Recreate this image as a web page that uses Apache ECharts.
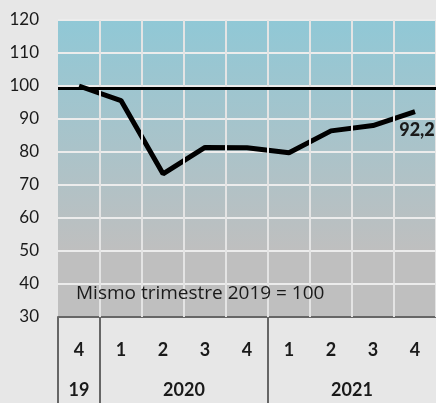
<!DOCTYPE html>
<html>
<head>
<meta charset="utf-8">
<title>Indice trimestral</title>
<script src="https://cdn.jsdelivr.net/npm/echarts@6/dist/echarts.min.js"></script>
<style>
  html, body { margin: 0; padding: 0; background: #e7e7e7; }
  #chart { width: 436px; height: 403px; }
</style>
</head>
<body>
<div id="chart"></div>
<script>
// trimestres (fila 1) y años (fila 2)
var quarters = ['4', '1', '2', '3', '4', '1', '2', '3', '4'];
var years = ['19', '2020', '2021'];
var yearCenters = [0.5, 3, 7];      // centro de cada grupo, en posiciones de categoría
var yearBounds = [0, 1, 5];         // separadores verticales
var values = [100, 95.6, 73.4, 81.4, 81.3, 79.8, 86.4, 88, 92.2];
var baseLine = 99.2;
var note = 'Mismo trimestre 2019 = 100';

var font = 'Lato';
var chart = echarts.init(document.getElementById('chart'));
var last = values.length - 1;
// límites entre trimestres para la rejilla vertical
var quarterBounds = quarters.map(function (q, i) { return i + 1; });

chart.setOption({
    backgroundColor: '#e7e7e7',
    animation: false,
    grid: {
        left: 58, right: 0, top: 20, bottom: 86,
        show: true, borderWidth: 0,
        backgroundColor: {
            type: 'linear', x: 0, y: 0, x2: 0, y2: 1,
            colorStops: [
                { offset: 0, color: '#90c8d6' },
                { offset: 0.78, color: '#bfbfbf' },
                { offset: 1, color: '#bfbfbf' }
            ]
        }
    },
    xAxis: [{
        type: 'category',
        data: quarters,
        boundaryGap: true,
        axisLine: { show: false },
        axisTick: { show: false },
        axisLabel: {
            interval: 0,
            margin: 24, fontFamily: font, fontSize: 18, fontWeight: 'bold', color: '#1a1a1a'
        },
        splitLine: { show: false }
    }, {
        // fila de años y separadores
        type: 'value',
        position: 'bottom',
        min: 0, max: quarters.length,
        axisLine: { show: true, lineStyle: { color: '#666666', width: 2 } },
        axisTick: {
            show: true, customValues: yearBounds, length: 86,
            lineStyle: { color: '#666666', width: 2 }
        },
        axisLabel: {
            customValues: yearCenters,
            formatter: function (v) { return years[yearCenters.indexOf(v)]; },
            margin: 64, fontFamily: font, fontSize: 18, fontWeight: 'bold', color: '#1a1a1a'
        },
        splitLine: { show: false }
    }, {
        // eje auxiliar para la rejilla vertical
        type: 'value',
        position: 'top',
        min: 0, max: quarters.length,
        axisLine: { show: false },
        axisTick: { show: false, customValues: quarterBounds },
        axisLabel: { show: false, customValues: quarterBounds },
        splitLine: { show: true, lineStyle: { color: '#e4e4e4', width: 2 } }
    }],
    yAxis: {
        type: 'value',
        min: 30, max: 120, interval: 10,
        axisLine: { show: false },
        axisTick: { show: false },
        axisLabel: { margin: 19, fontFamily: font, fontSize: 17, color: '#1a1a1a' },
        splitLine: { lineStyle: { color: '#ececec', width: 2 } }
    },
    graphic: [{
        type: 'text', left: 76, top: 284, z: 10,
        style: { text: note, font: '19px "Open Sans"', fill: '#1a1a1a' }
    }],
    series: [{
        // líneas verticales entre trimestres
        type: 'line',
        xAxisIndex: 2,
        data: [],
        z: 1,
        silent: true,
        markLine: {
            silent: true, symbol: 'none',
            label: { show: false },
            lineStyle: { color: '#e4e4e4', width: 2, type: 'solid' },
            data: quarterBounds.map(function (v) { return { xAxis: v }; })
        }
    }, {
        type: 'line',
        data: values,
        z: 3,
        symbol: 'circle',
        symbolSize: 0,
        showSymbol: true,
        lineStyle: { color: '#000', width: 5 },
        label: {
            show: true, position: 'bottom', distance: 9, offset: [2, 0],
            formatter: function (p) {
                return p.dataIndex === last ? String(p.value).replace('.', ',') : '';
            },
            fontFamily: font, fontSize: 18, fontWeight: 900, color: '#1a1a1a'
        },
        markLine: {
            silent: true, symbol: 'none',
            label: { show: false },
            lineStyle: { color: '#000', width: 3, type: 'solid' },
            data: [{ yAxis: baseLine }]
        }
    }]
});
</script>
</body>
</html>
